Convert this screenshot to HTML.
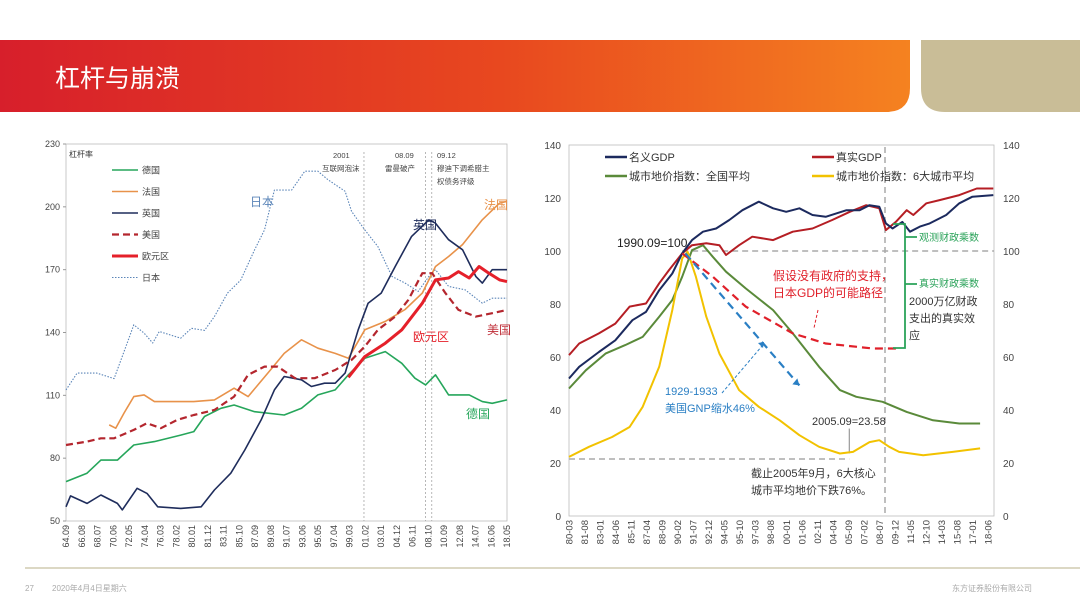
<!DOCTYPE html>
<html><head><meta charset="utf-8">
<style>
html,body{margin:0;padding:0;background:#fff;}
#root{position:relative;width:1080px;height:608px;overflow:hidden;font-family:"Liberation Sans","Noto Sans CJK SC",sans-serif;}
svg text{font-family:"Liberation Sans","Noto Sans CJK SC",sans-serif;}
</style></head>
<body>
<div id="root">
<svg id="svg" width="1080" height="608" viewBox="0 0 1080 608">
<defs>
<linearGradient id="hg" x1="0" x2="1" y1="0" y2="0">
<stop offset="0" stop-color="#d71f2b"/><stop offset="0.55" stop-color="#e8481f"/><stop offset="1" stop-color="#f58220"/>
</linearGradient>
</defs>
<path d="M0 40 H910 V88 Q910 112 886 112 H0 Z" fill="url(#hg)"/>
<path d="M921 40 H1080 V112 H945 Q921 112 921 88 Z" fill="#c9bd97"/>
<text x="55" y="87" font-size="25" fill="#fff">杠杆与崩溃</text>
<line x1="25" y1="568" x2="1080" y2="568" stroke="#dcd8c4" stroke-width="2"/>
<text x="25" y="591" font-size="8" fill="#aaa">27</text>
<text x="52" y="591" font-size="8" fill="#aaa">2020年4月4日星期六</text>
<text x="1032" y="591" font-size="8" fill="#aaa" text-anchor="end">东方证券股份有限公司</text>
<g id="left"></g>
<g id="right"></g>
</svg>
</div>
<script>
// ===== Left chart data =====
const lTicks = [50,80,110,140,170,200,230];
const lXLabels = ["64.09","66.08","68.07","70.06","72.05","74.04","76.03","78.02","80.01","81.12","83.11","85.10","87.09","89.08","91.07","93.06","95.05","97.04","99.03","01.02","03.01","04.12","06.11","08.10","10.09","12.08","14.07","16.06","18.05"];
const japanT = [1964.75,1966.1,1968.5,1970.6,1972.2,1973,1974.25,1975.3,1976.1,1978.7,1980,1981.6,1982.8,1984.4,1986,1987.7,1988.9,1990.1,1992.2,1993.8,1995.4,1996.6,1998.7,1999.5,2001.1,2002.7,2004.4,2006,2007.6,2008.9,2009.7,2011.3,2013.3,2015.4,2016.6,2018.4];
const japanV = [112.6,120.6,120.6,118,135,143.7,139.7,135,140.5,137.3,142,141,147.6,158.8,165,179.5,189,208,208,217,217,213,207.4,197.8,189,181,166.8,163.6,159.6,166.8,170,162,160.4,154,156.4,156.4];
const germanyT = [1964.75,1967.3,1969,1971,1973,1975.5,1978.7,1980.3,1981.6,1983.6,1985.2,1987.7,1991.3,1993.4,1995.4,1997.5,1999.1,2001.1,2003.6,2005.6,2007.2,2008.5,2009.7,2011.3,2013.8,2015.4,2016.6,2018.4];
const germanyV = [68.8,72.8,79.1,79.1,86.3,87.9,91,92.7,99.9,103.8,105.4,102.2,100.6,103.8,110.2,112.6,119.8,127.7,130.9,125.3,118.2,115,119.8,110.2,110.2,107,106.2,107.8];
const franceT = [1970,1970.8,1971.8,1973,1974.25,1975.5,1978.3,1980.3,1982.8,1985.2,1986.9,1989.3,1991.3,1993.4,1995.4,1997.5,1999.1,2001.1,2003.6,2006,2008.1,2009.7,2011.3,2013,2015.4,2017.5,2018.4];
const franceV = [95.9,94.3,101.5,109.4,110.2,107,107,107,107.8,113.4,109.4,120.6,130,136.5,132.5,130,127.7,141.3,145.3,151,158.8,171.5,176.3,182,193.8,201.8,202.6];
const ukT = [1964.75,1965.3,1967.3,1969,1971,1971.6,1973.4,1974.6,1975.9,1978.7,1981.2,1982.8,1984.8,1986.5,1988.5,1990.1,1991.3,1993.4,1994.6,1996.2,1997.5,1998.7,2000.3,2001.5,2003.1,2004.8,2006.8,2008.9,2009.7,2011.3,2013,2014.6,2015.4,2016.6,2018.4];
const ukV = [56.8,62,58.4,62.4,58.4,55.3,65.6,63.2,56.8,56,56.8,64.8,72.8,83.9,98.3,112.6,119,117.4,114.2,115.8,115.8,120.6,141.3,154,158.8,171.5,185.9,193.8,192.2,184.3,179.5,166.8,163.6,170,170];
const usT = [1964.75,1967.3,1969,1970.6,1973,1974.6,1976.3,1978.3,1980.3,1982.8,1985.2,1986.9,1988.9,1990.5,1992.6,1995,1997.5,1999.5,2001.1,2002.7,2004.8,2006.4,2008.1,2009.3,2010.9,2012.5,2014.6,2016.6,2018.4];
const usV = [86.3,87.9,89.5,89.5,93.5,96.7,94.3,98.3,100.6,103,109.4,119.8,123.7,123.7,118.2,118.2,122.1,126.9,133.3,141.3,147.6,155.6,168.3,168.3,158.8,150.8,147.6,149.2,150.8];
const euroT = [1999.1,2001.1,2003.6,2005.6,2008.1,2009.7,2011.3,2012.5,2013.8,2015,2016.2,2017.5,2018.4];
const euroV = [118.6,128.5,134.9,141.3,154,165.1,166,169.1,166,171.5,168.3,165.1,164.3];
const lEvents = [2001.0, 2008.5, 2009.25];

// ===== Right chart data =====
const rTicks = [0,20,40,60,80,100,120,140];
const rXLabels = ["80-03","81-08","83-01","84-06","85-11","87-04","88-09","90-02","91-07","92-12","94-05","95-10","97-03","98-08","00-01","01-06","02-11","04-04","05-09","07-02","08-07","09-12","11-05","12-10","14-03","15-08","17-01","18-06"];
const nomT = [1980.17,1981.1,1982.9,1984.4,1985.96,1987.2,1988.4,1989.6,1990.5,1991.4,1992.4,1993.6,1994.8,1996,1997.5,1998.8,2000,2001.2,2002.4,2003.6,2005.5,2006.7,2007.6,2008.5,2009.1,2009.7,2010.6,2011.3,2012.2,2013.1,2014.6,2015.8,2017,2018.9];
const nomV = [51.9,56.3,61.9,66.3,73.9,77,85.2,91.5,99.1,104.1,107.3,108.5,111.7,115.4,118.6,116.1,114.8,116.1,113.6,112.9,115.4,115.4,117.3,116.7,110.4,108.5,111,107.3,109.2,110.4,113.6,118,120.5,121.1];
const realT = [1980.17,1981.1,1982.9,1984.4,1985.7,1987.2,1988.4,1989.3,1990.5,1991.4,1992.7,1993.9,1994.5,1995.7,1996.9,1998.8,2000.6,2002.4,2004.2,2005.8,2007.3,2008.5,2009.1,2010,2011,2011.6,2012.8,2014,2015.8,2017.4,2018.9];
const realV = [60.7,65.1,68.9,72.6,79,80.2,87.8,92.8,99.1,102.2,102.9,102.2,98.5,102.2,105.4,104.1,107.3,108.5,111.7,114.8,117.3,116.1,107.9,111,115.4,113.6,118,119.2,121.1,123.6,123.6];
const landT = [1980.17,1981.7,1983.5,1985.3,1986.9,1988.4,1989.6,1990.5,1991.4,1992.4,1993.3,1994.5,1996.3,1998.8,2000.6,2003,2004.9,2006.4,2008.8,2011,2013.4,2015.8,2017.7];
const landV = [48.1,55,61.3,64.5,67.6,75.2,81.5,90.3,100.3,102.2,97.8,92.2,85.9,77.7,68.9,56.3,47.5,45,43.1,39.3,36.1,34.9,34.9];
const cityT = [1980.17,1982,1984.1,1985.7,1986.9,1988.4,1989.6,1990.5,1991,1991.75,1992.7,1993.9,1995.7,1997.5,1999.4,2001.2,2003,2004.9,2006.1,2007.6,2008.5,2009.4,2010.3,2012.5,2015.2,2017.7];
const cityV = [22.3,26.1,29.8,33.6,41.2,56.3,77.7,97.2,99.7,90.3,75.2,61.3,47.5,41.2,36.1,30.5,26.1,23.6,24.2,27.9,28.6,26.1,24.2,22.9,24.2,25.5];
const noSupT = [1990.5,1993.3,1996.3,2000.6,2003.6,2007.9,2010.3];
const noSupV = [99.1,90.3,79,68.9,65.1,63.2,63.2];
const gnpT = [1990.8,2001.2];
const gnpV = [99.1,49.3];

const NS = "http://www.w3.org/2000/svg";
function mk(parent, tag, attrs, txt){
  const e = document.createElementNS(NS, tag);
  for (const k in attrs) e.setAttribute(k, attrs[k]);
  if (txt !== undefined) e.textContent = txt;
  parent.appendChild(e);
  return e;
}

// ---------- LEFT ----------
const L = document.getElementById('left');
const lx0=66,lx1=507,ly0=521,ly1=144, lt0=1964.75, lt1=2018.4;
const lX = t => lx0 + (t-lt0)/(lt1-lt0)*(lx1-lx0);
const lY = v => ly0 - (v-50)/180*(ly0-ly1);
let e;
e = mk(L,'rect',{x:lx0,y:ly1,width:lx1-lx0,height:ly0-ly1,fill:'none',stroke:'#bbb','stroke-width':0.8});


lTicks.forEach(v=>{
  const t = mk(L,'text',{x:lx0-6,y:lY(v)+3,'font-size':9,fill:'#444','text-anchor':'end'},String(v));
  
  
  mk(L,'line',{x1:lx0-3,x2:lx0,y1:lY(v),y2:lY(v),stroke:'#999'});
});
lXLabels.forEach((s,i)=>{
  const x = lx0 + i*(lx1-lx0)/(lXLabels.length-1);
  const t = mk(L,'text',{x:0,y:0,'font-size':9,fill:'#444','text-anchor':'end',transform:`translate(${x+3},${ly0+4}) rotate(-90)`},s);
  
  
});
lEvents.forEach(t=>{
  const l = mk(L,'line',{x1:lX(t),x2:lX(t),y1:ly1+8,y2:ly0,stroke:'#999','stroke-width':0.7,'stroke-dasharray':'2,2'});
  
  
});
[["2001",333,158],["互联网泡沫",322,171],["08.09",395,158],["雷曼破产",385,171],["09.12",437,158],["穆迪下调希腊主",437,171],["权债务评级",437,184]].forEach(a=>{
  const t = mk(L,'text',{x:a[1],y:a[2],'font-size':7.5,fill:'#444','font-family':'"Liberation Serif","Noto Serif CJK SC",serif'},a[0]);
  
  
});
e = mk(L,'text',{x:69,y:157,'font-size':8,fill:'#333'},'杠杆率');


function pathD(T,V,fx,fy){return T.map((t,i)=>(i?'L':'M')+fx(t).toFixed(1)+' '+fy(V[i]).toFixed(1)).join(' ');}
const lSeries = [
  ['japan',japanT,japanV,'#5b85b8',1.1,'1.5,1.5','日本'],
  ['germany',germanyT,germanyV,'#26a65b',1.6,'','德国'],
  ['france',franceT,franceV,'#e8924a',1.6,'','法国'],
  ['uk',ukT,ukV,'#1f2d5c',1.6,'','英国'],
  ['us',usT,usV,'#b4262e',2.2,'7,4','美国'],
  ['eurozone',euroT,euroV,'#e5202a',3,'','欧元区']
];
lSeries.forEach(s=>{
  const p = mk(L,'path',{d:pathD(s[1],s[2],lX,lY),fill:'none',stroke:s[3],'stroke-width':s[4],'stroke-dasharray':s[5],'stroke-linejoin':'round'});
  
  
});
// legend
const legOrder = ['germany','france','uk','us','eurozone','japan'];
legOrder.forEach((k,i)=>{
  const s = lSeries.find(q=>q[0]===k);
  const y = 170 + i*21.5;
  const g = mk(L,'g',{});
  
  
  mk(g,'line',{x1:112,x2:138,y1:y,y2:y,stroke:s[3],'stroke-width':s[4],'stroke-dasharray':s[5]});
  mk(g,'text',{x:142,y:y+3.5,'font-size':9,fill:'#444'},s[6]);
});
[['日本',250,206,'#5b85b8'],['英国',413,229,'#1f2d5c'],['法国',484,209,'#e8924a'],['美国',487,334,'#c0303a'],['欧元区',413,341,'#e5202a'],['德国',466,418,'#26a65b']].forEach(a=>{
  const t = mk(L,'text',{x:a[1],y:a[2],'font-size':12,fill:a[3]},a[0]);
  
  
});

// ---------- RIGHT ----------
const R = document.getElementById('right');
const rx0=569,rx1=994,ry0=516,ry1=145,rt0=1980.17,rtL=2018.42,rxL=988;
const rX = t => rx0 + (t-rt0)/(rtL-rt0)*(rxL-rx0);
const rY = v => ry0 - v/140*(ry0-ry1);
e = mk(R,'rect',{x:rx0,y:ry1,width:rx1-rx0,height:ry0-ry1,fill:'none',stroke:'#bbb','stroke-width':0.8});


rTicks.forEach(v=>{
  let t = mk(R,'text',{x:rx0-8,y:rY(v)+4,'font-size':10,fill:'#444','text-anchor':'end'},String(v));
  
  
  t = mk(R,'text',{x:rx1+9,y:rY(v)+4,'font-size':10,fill:'#444'},String(v));
  
  
});
rXLabels.forEach((s,i)=>{
  const x = rx0 + i*(rxL-rx0)/(rXLabels.length-1);
  const t = mk(R,'text',{x:0,y:0,'font-size':9.5,fill:'#444','text-anchor':'end',transform:`translate(${x+3.5},${ry0+4}) rotate(-90)`},s);
  
  
});
// reference lines
e = mk(R,'line',{x1:rX(1990.5),x2:rx1,y1:rY(100),y2:rY(100),stroke:'#aaa','stroke-width':1.5,'stroke-dasharray':'6,4'});


e = mk(R,'line',{x1:rx0,x2:rX(2005.75),y1:rY(21.5),y2:rY(21.5),stroke:'#aaa','stroke-width':1.5,'stroke-dasharray':'6,4'});


e = mk(R,'line',{x1:885,x2:885,y1:ry1+2,y2:ry0,stroke:'#aaa','stroke-width':1.5,'stroke-dasharray':'6,4'});


e = mk(R,'line',{x1:rX(2005.75),x2:rX(2005.75),y1:rY(23.6),y2:rY(33),stroke:'#666','stroke-width':0.8});


const rSeries = [
  ['land-national',landT,landV,'#5a8a3a',2],
  ['land-six-cities',cityT,cityV,'#f2c200',2],
  ['real-gdp',realT,realV,'#b51e24',2],
  ['nominal-gdp',nomT,nomV,'#1c2a5e',2]
];
rSeries.forEach(s=>{
  const p = mk(R,'path',{d:pathD(s[1],s[2],rX,rY),fill:'none',stroke:s[3],'stroke-width':s[4],'stroke-linejoin':'round'});
  
  
});
e = mk(R,'path',{d:pathD(noSupT,noSupV,rX,rY),fill:'none',stroke:'#e0202a','stroke-width':2.2,'stroke-dasharray':'8,5'});


e = mk(R,'path',{d:pathD(gnpT,gnpV,rX,rY),fill:'none',stroke:'#2a7fc4','stroke-width':2.2,'stroke-dasharray':'8,5'});


e = mk(R,'path',{d:`M${rX(2001.2)} ${rY(49.3)} l-7 -1 l5 -6 Z`,fill:'#2a7fc4'});


// dashed blue pointer
e = mk(R,'path',{d:'M722 393 L762 346',fill:'none',stroke:'#2a7fc4','stroke-width':1,'stroke-dasharray':'3,2'});


e = mk(R,'path',{d:'M758 343 l6 -1 l-1 6 Z',fill:'#2a7fc4'});


e = mk(R,'path',{d:'M818 310 L814 328',fill:'none',stroke:'#e0202a','stroke-width':1,'stroke-dasharray':'3,2'});


// green bracket
e = mk(R,'path',{d:'M893 224 H905 V348 H893 M905 237 H917 M905 284 H917',fill:'none',stroke:'#2ba35a','stroke-width':1.8});


// legend
[['名义GDP',605,157,'#1c2a5e'],['真实GDP',812,157,'#b51e24'],['城市地价指数：全国平均',605,176,'#5a8a3a'],['城市地价指数：6大城市平均',812,176,'#f2c200']].forEach(a=>{
  const g = mk(R,'g',{});
  
  
  mk(g,'line',{x1:a[1],x2:a[1]+22,y1:a[2],y2:a[2],stroke:a[3],'stroke-width':2.5});
  mk(g,'text',{x:a[1]+24,y:a[2]+4,'font-size':11,fill:'#333'},a[0]);
});
[['1990.09=100',617,247,12,'#222'],['假设没有政府的支持，',773,280,12,'#e0202a'],['日本GDP的可能路径',773,297,12,'#e0202a'],
 ['1929-1933',665,395,11,'#2a7fc4'],['美国GNP缩水46%',665,412,11,'#2a7fc4'],['2005.09=23.58',812,425,11,'#333'],
 ['截止2005年9月，6大核心',751,477,11,'#333'],['城市平均地价下跌76%。',751,494,11,'#333'],
 ['观测财政乘数',919,241,10,'#2ba35a'],['真实财政乘数',919,287,10,'#2ba35a'],
 ['2000万亿财政',909,305,11,'#333'],['支出的真实效',909,322,11,'#333'],['应',909,339,11,'#333']].forEach(a=>{
  const t = mk(R,'text',{x:a[1],y:a[2],'font-size':a[3],fill:a[4]},a[0]);
  
  
});
</script>
</body></html>
